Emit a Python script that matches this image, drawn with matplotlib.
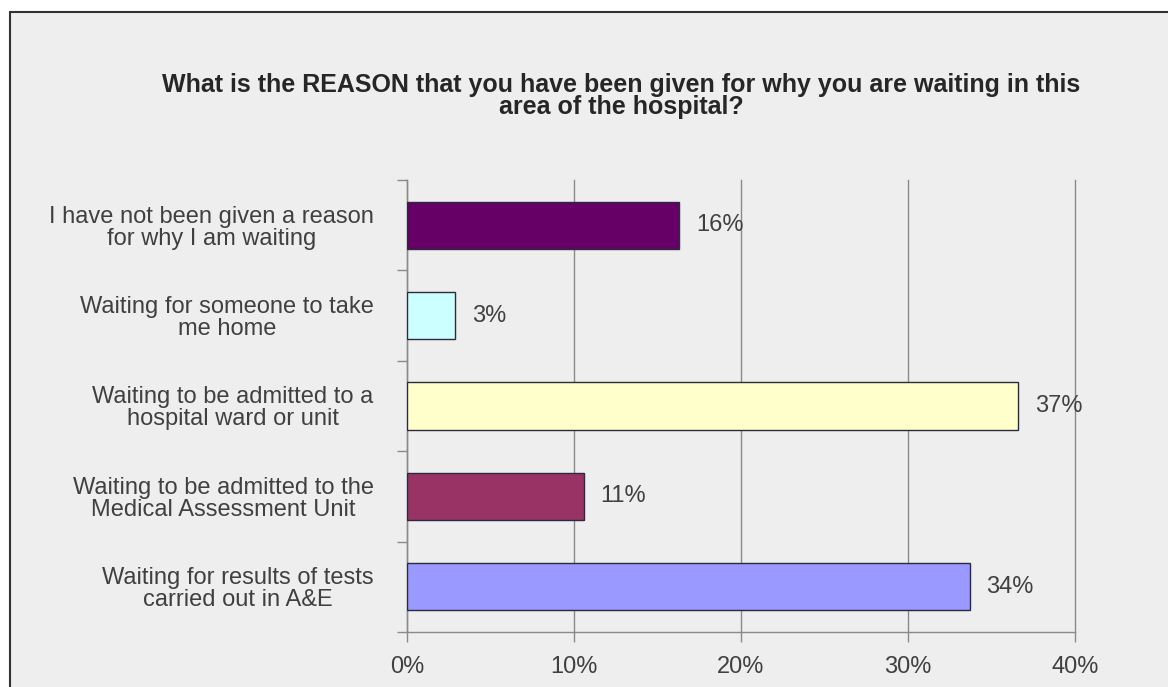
import numpy as np
import matplotlib.pyplot as plt
from matplotlib.patches import Rectangle
from matplotlib.ticker import FixedLocator, PercentFormatter

plt.rcParams['font.family'] = ['Liberation Sans', 'DejaVu Sans']

TITLE = ("What is the REASON that you have been given for why you are waiting in this\n"
         "area of the hospital?")

categories = [
    "I have not been given a reason\nfor why I am waiting",
    "Waiting for someone to take\nme home",
    "Waiting to be admitted to a\nhospital ward or unit",
    "Waiting to be admitted to the\nMedical Assessment Unit",
    "Waiting for results of tests\ncarried out in A&E",
]
values = [16.3, 2.9, 36.6, 10.6, 33.7]
value_labels = ["16%", "3%", "37%", "11%", "34%"]
bar_colors = ["#660066", "#CCFFFF", "#FFFFCC", "#993366", "#9999FF"]
x_ticks = [0, 10, 20, 30, 40]

TXT = "#404040"
BG = "#EEEEEE"

fig = plt.figure(figsize=(11.68, 6.87), dpi=100)
fig.patch.set_facecolor("white")
# chart frame (cut off on the right and bottom like the screenshot)
fig.patches.append(Rectangle((10 / 1168, -0.05), 1.1, 1 - 12 / 687 + 0.05,
                             transform=fig.transFigure, facecolor=BG,
                             edgecolor="#333333", linewidth=1.5, zorder=-5))

ax = fig.add_axes([407 / 1168, 1 - 632 / 687, 668 / 1168, 452 / 687])
ax.set_facecolor("none")

y = np.arange(len(categories))
ax.barh(y, values, height=0.52, color=bar_colors, edgecolor="#2b2b40",
        linewidth=1.0, zorder=3)

for yi, v, lab in zip(y, values, value_labels):
    ax.text(v + 1.0, yi, lab, va="center", ha="left", fontsize=17, color=TXT, zorder=4)

ax.set_xlim(0, 40)
ax.set_ylim(len(categories) - 0.5, -0.5)

ax.set_xticks(x_ticks)
ax.xaxis.set_major_formatter(PercentFormatter(decimals=0))
ax.grid(axis="x", color="#8a8a8a", linewidth=1.0, zorder=1)
for gl in ax.get_xgridlines():
    gl.set_clip_on(False)
ax.tick_params(axis="x", length=7, width=1, color="#8a8a8a", labelsize=17,
               labelcolor=TXT, pad=10)

ax.yaxis.set_major_locator(FixedLocator(np.arange(-0.5, len(categories), 1.0)))
ax.yaxis.set_major_formatter(plt.NullFormatter())
ax.yaxis.set_minor_locator(FixedLocator(y))
ax.set_yticklabels(categories, minor=True, fontsize=17, color=TXT,
                   multialignment="center", linespacing=1.0)
ax.tick_params(axis="y", which="major", length=7, width=1, color="#8a8a8a")
ax.tick_params(axis="y", which="minor", length=0, pad=24)

for side in ["top", "right"]:
    ax.spines[side].set_visible(False)
for side in ["left", "bottom"]:
    ax.spines[side].set_color("#8a8a8a")
    ax.spines[side].set_linewidth(1.0)

fig.text(621 / 1168, 1 - 96 / 687, TITLE, ha="center", va="center",
         fontsize=18, fontweight="bold", color="#262626", linespacing=0.85)

fig.savefig("out.png", dpi=100, facecolor=fig.get_facecolor())
